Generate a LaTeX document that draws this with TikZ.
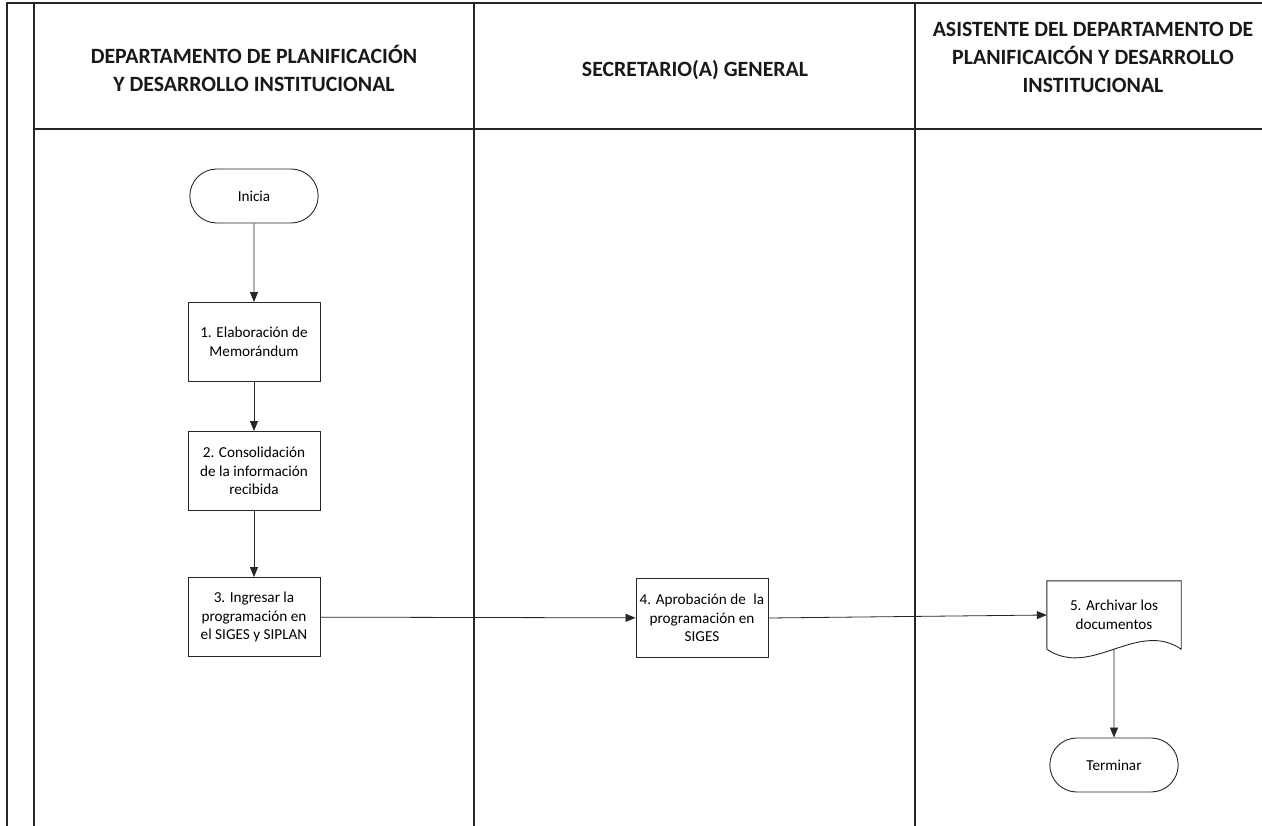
\documentclass[tikz,border=0pt]{standalone}
\usepackage{fontspec}
\setmainfont{Carlito}
\usetikzlibrary{arrows.meta,shapes.misc}
\begin{document}
\begin{tikzpicture}[x=1pt,y=-1pt,
  lane/.style={line width=1.1pt,draw=black!85},
  hdr/.style={font=\fontsize{21.8}{28}\selectfont\bfseries,align=center,text=black!90},
  proc/.style={draw=black!85,line width=0.9pt,rectangle,minimum width=132pt,minimum height=79pt,align=center,inner sep=1pt,font=\fontsize{15.2}{18.5}\selectfont},
  term/.style={draw=black!85,line width=0.9pt,rounded rectangle,minimum width=135pt,minimum height=54pt,align=center,font=\fontsize{15.2}{18.5}\selectfont},
  docn/.style={rectangle,minimum width=134pt,minimum height=68pt,align=center,inner sep=0pt,font=\fontsize{15.2}{18.5}\selectfont},
  flow/.style={draw=black!85,line width=0.8pt,-{Triangle[length=10pt,width=8pt]}}
]
\useasboundingbox (0,0) rectangle (1262,826);
% swimlane frame
\draw[lane] (7,826) -- (7,3) -- (1262,3);
\draw[lane] (34,3) -- (34,826);
\draw[lane] (34,129) -- (1262,129);
\draw[lane] (474,3) -- (474,826);
\draw[lane] (915,3) -- (915,826);
% headers
\node[hdr] (h1) at (254,68) {DEPARTAMENTO DE PLANIFICACIÓN\\Y DESARROLLO INSTITUCIONAL};
\node[hdr] (h2) at (695,70) {SECRETARIO(A) GENERAL};
\node[hdr] (h3) at (1093,57) {ASISTENTE DEL DEPARTAMENTO DE\\PLANIFICAICÓN Y DESARROLLO\\INSTITUCIONAL};
% nodes
\node[term] (s) at (254,196) {Inicia};
\node[proc] (p1) at (254,342) {1. Elaboración de\\Memorándum};
\node[proc] (p2) at (254,471) {2. Consolidación\\de la información\\recibida};
\node[proc] (p3) at (254,617) {3. Ingresar la\\programación en\\el SIGES y SIPLAN};
\node[proc] (p4) at (702,618) {4. Aprobación de\hspace{0.5em}la\\programación en\\SIGES};
\node[docn] (p5) at (1114,615) {5. Archivar los\\documentos};
\draw[draw=black!85,line width=0.9pt] (p5.south west) -- (p5.north west) -- (p5.north east) -- (p5.south east)
  .. controls +(-44,-30) and +(44,30) .. (p5.south west);
\node[term] (e) at (1114,765) {Terminar};
% connectors
\draw[flow] (s) -- (p1);
\draw[flow] (p1) -- (p2);
\draw[flow] (p2) -- (p3);
\draw[flow] (p3) -- (p4);
\draw[flow] (p4.east) -- (p5.west);
\draw[flow] (p5.south) -- (e);
\end{tikzpicture}
\end{document}
